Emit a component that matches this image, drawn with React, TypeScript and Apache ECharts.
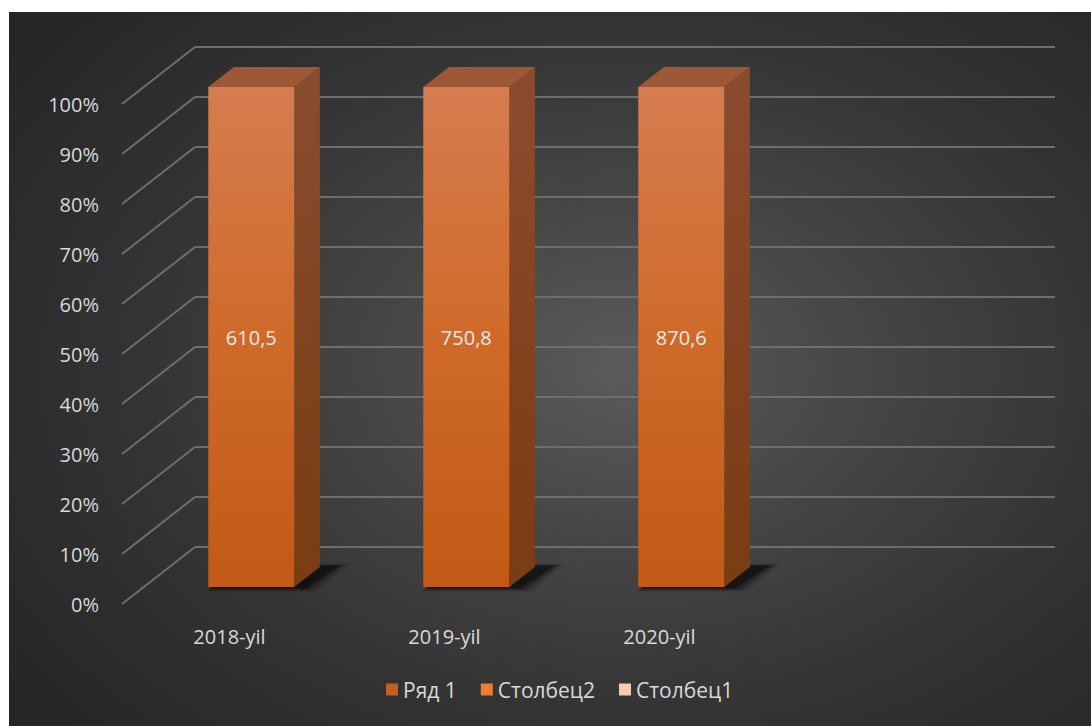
import React, { useEffect, useRef } from "react";
import * as echarts from "echarts";

const categories = ["2018-yil", "2019-yil", "2020-yil", ""];
const seriesNames = ["Ряд 1", "Столбец2", "Столбец1"];
const row1Values: (number | null)[] = [610.5, 750.8, 870.6, null];
const column2Values: (number | null)[] = [null, null, null, null];
const column1Values: (number | null)[] = [null, null, null, null];
const percentTicks = [0, 10, 20, 30, 40, 50, 60, 70, 80, 90, 100];

const allSeries = [row1Values, column2Values, column1Values];
const legendColors = ["#c2601f", "#ed7d31", "#f8cbad"];
const faces = [
  { front: ["#d67c4f", "#cf6a2a", "#c25916"], side: ["#8a4c2e", "#7a3c12"], top: "#9c5837" },
  { front: ["#f39a5c", "#ed7d31", "#e06a1c"], side: ["#a5551f", "#8f4412"], top: "#c06a30" },
  { front: ["#fad8c0", "#f8cbad", "#f0b890"], side: ["#b08a75", "#9a7560"], top: "#d4aa90" },
];

const DX = 73;
const DY = 57;
const K = DX / DY;
const FRONT = 40;
const BACK = 20;

function buildStack(idx: number) {
  return categories.map((_, c) => {
    let total = 0;
    allSeries.forEach((s) => (total += s[c] || 0));
    let start = 0;
    for (let i = 0; i < idx; i++) start += allSeries[i][c] || 0;
    const v = allSeries[idx][c];
    if (!total || v == null) return [c, 0, 0, null];
    return [c, (start / total) * 100, ((start + v) / total) * 100, v];
  });
}

function makeBarRenderer(idx: number) {
  const f = faces[idx];
  return (params: any, api: any) => {
    const cat = api.value(0);
    const s = api.value(1);
    const e = api.value(2);
    const raw = api.value(3);
    if (!(e > s)) return null;
    const bw = api.size([1, 0])[0] * 0.4;
    const pTop = api.coord([cat, e]);
    const pBot = api.coord([cat, s]);
    const fx = pTop[0] - FRONT * K - bw / 2;
    const fyT = pTop[1] + FRONT;
    const fyB = pBot[1] + FRONT;
    const d = FRONT - BACK;
    const dd = d * K;
    const children: any[] = [];
    if (s === 0) {
      const layers = [
        { g: 12, a: 0.12 },
        { g: 8, a: 0.18 },
        { g: 4, a: 0.25 },
        { g: 1, a: 0.35 },
      ];
      layers.forEach(({ g, a }) => {
        children.push({
          type: "polygon",
          shape: {
            points: [
              [fx + 4 - g * 0.5, fyB + 1 + g * 0.3],
              [fx + bw + 10 + g, fyB + 1 + g * 0.3],
              [fx + bw + dd + 18 + g, fyB - d - 1 - g * 0.2],
              [fx + dd + 10, fyB - d - 1 - g * 0.2],
            ],
          },
          style: { fill: `rgba(0,0,0,${a})` },
          silent: true,
        });
      });
    }
    children.push({
      type: "polygon",
      shape: {
        points: [
          [fx + bw, fyT],
          [fx + bw + dd, fyT - d],
          [fx + bw + dd, fyB - d],
          [fx + bw, fyB],
        ],
      },
      style: {
        fill: new echarts.graphic.LinearGradient(0, 0, 0, 1, [
          { offset: 0, color: f.side[0] },
          { offset: 1, color: f.side[1] },
        ]),
      },
    });
    children.push({
      type: "polygon",
      shape: {
        points: [
          [fx, fyT],
          [fx + bw, fyT],
          [fx + bw + dd, fyT - d],
          [fx + dd, fyT - d],
        ],
      },
      style: { fill: f.top },
    });
    children.push({
      type: "rect",
      shape: { x: fx, y: fyT, width: bw, height: fyB - fyT },
      style: {
        fill: new echarts.graphic.LinearGradient(0, 0, 0, 1, [
          { offset: 0, color: f.front[0] },
          { offset: 0.5, color: f.front[1] },
          { offset: 1, color: f.front[2] },
        ]),
      },
    });
    if (raw != null && !isNaN(raw)) {
      children.push({
        type: "text",
        x: fx + bw / 2,
        y: (fyT + fyB) / 2,
        style: {
          text: String(raw).replace(".", ","),
          fill: "#e8e8e8",
          font: '20px "Open Sans"',
          align: "center",
          verticalAlign: "middle",
        },
      });
    }
    return { type: "group", children };
  };
}

export default function App() {
  const ref = useRef<HTMLDivElement>(null);
  useEffect(() => {
    if (!ref.current) return;
    const chart = echarts.init(ref.current, undefined, { renderer: "svg" });
    const labelColor = "#d9d9d9";
    const gridColor = "#6e6e6e";
    const series: any[] = [
      {
        type: "custom",
        name: "diag",
        xAxisIndex: 0,
        yAxisIndex: 0,
        silent: true,
        z: 1,
        data: percentTicks.map((v) => [0, v]),
        renderItem: (params: any, api: any) => {
          const p = api.coord([api.value(0), api.value(1)]);
          const bw = api.size([1, 0])[0];
          const x0 = p[0] - bw / 2;
          return {
            type: "line",
            shape: { x1: x0, y1: p[1], x2: x0 - DX, y2: p[1] + DY },
            style: { stroke: gridColor, lineWidth: 2 },
          };
        },
      },
    ];
    seriesNames.forEach((name, i) => {
      series.push({
        type: "custom",
        name,
        xAxisIndex: 0,
        yAxisIndex: 0,
        z: 3,
        itemStyle: { color: legendColors[i] },
        data: buildStack(i),
        renderItem: makeBarRenderer(i),
      });
    });
    chart.setOption({
      animation: false,
      backgroundColor: "transparent",
      textStyle: { fontFamily: '"Open Sans", sans-serif' },
      grid: [
        { left: 186, top: 35, width: 860, height: 500 },
        { left: 113, top: 92, width: 860, height: 500 },
      ],
      xAxis: [
        {
          type: "category",
          gridIndex: 0,
          data: categories,
          axisLine: { show: false },
          axisTick: { show: false },
          axisLabel: { show: false },
        },
        {
          type: "category",
          gridIndex: 1,
          data: categories,
          axisLine: { show: false },
          axisTick: { show: false },
          axisLabel: { color: labelColor, fontSize: 20, margin: 22 },
        },
      ],
      yAxis: [
        {
          type: "value",
          gridIndex: 0,
          min: 0,
          max: 100,
          interval: 10,
          axisLabel: { show: false },
          axisLine: { show: false },
          axisTick: { show: false },
          splitLine: { show: true, lineStyle: { color: gridColor, width: 2 } },
        },
        {
          type: "value",
          gridIndex: 1,
          min: 0,
          max: 100,
          interval: 10,
          axisLabel: { color: labelColor, fontSize: 20, margin: 23, formatter: "{value}%" },
          axisLine: { show: false },
          axisTick: { show: false },
          splitLine: { show: false },
        },
      ],
      legend: {
        data: seriesNames,
        top: 667,
        left: 377,
        padding: 0,
        icon: "rect",
        itemWidth: 12,
        itemHeight: 12,
        itemGap: 24,
        textStyle: { color: labelColor, fontSize: 21 },
      },
      series,
    });
    return () => chart.dispose();
  }, []);
  return (
    <div style={{ position: "fixed", left: 0, top: 0, width: 1091, height: 726, background: "#ffffff" }}>
      <div
        style={{
          position: "absolute",
          left: 9,
          top: 12,
          width: 1082,
          height: 714,
          background:
            "radial-gradient(ellipse 70% 75% at 57% 50%, #5b5b5b 0%, #474747 30%, #333333 65%, #262626 100%)",
        }}
      >
        <div ref={ref} style={{ width: 1082, height: 714 }} />
      </div>
    </div>
  );
}
